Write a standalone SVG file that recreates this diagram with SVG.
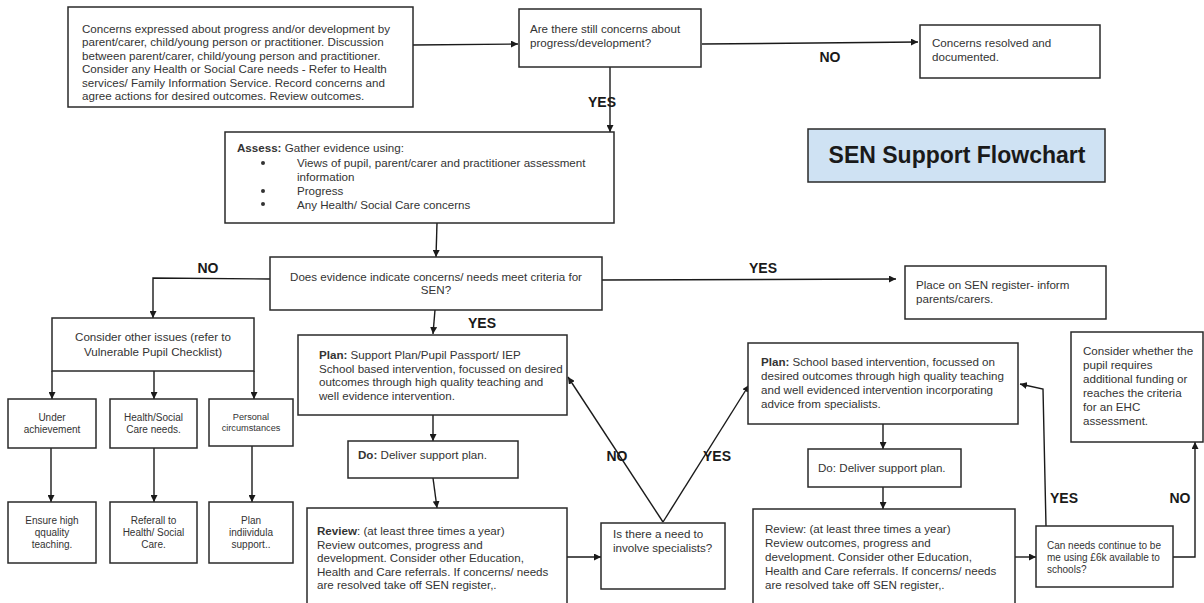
<svg xmlns="http://www.w3.org/2000/svg" width="1204" height="603" viewBox="0 0 1204 603">
<defs>
<marker id="ah" viewBox="0 0 10 10" refX="10" refY="5" markerWidth="7" markerHeight="7" orient="auto" markerUnits="userSpaceOnUse">
<path d="M0,0 L10,5 L0,10 z" fill="#1a1a1a"/>
</marker>
</defs>
<style>
rect.b{fill:#fff;stroke:#2a2a2a;stroke-width:1.5}
rect.t{fill:#cfe2f3;stroke:#2a2a2a;stroke-width:1.5}
text{font-family:"Liberation Sans",Arial,sans-serif;fill:#333}
.f{font-size:11.6px}
.s{font-size:10px}
.xs{font-size:9.2px}
.c{text-anchor:middle}
.lbl{font-size:14px;font-weight:bold;fill:#1a1a1a;text-anchor:middle}
.ttl{font-size:23px;font-weight:bold;fill:#1a1a1a;text-anchor:middle}
b,.bd{font-weight:bold}
#connectors path{fill:none;stroke:#1a1a1a;stroke-width:1.4}
</style>
<rect width="1204" height="603" fill="#fff"/>

<g id="connectors">
<path d="M413,45 L518,44" marker-end="url(#ah)"/>
<path d="M610,67 L610,132" marker-end="url(#ah)"/>
<path d="M702,44 L918,42" marker-end="url(#ah)"/>
<path d="M437,223 L436,257" marker-end="url(#ah)"/>
<path d="M270,279 L153,278 L153,318" marker-end="url(#ah)"/>
<path d="M602,280 L896,279" marker-end="url(#ah)"/>
<path d="M435,310 L433,334" marker-end="url(#ah)"/>
<path d="M52,371 L52,399" marker-end="url(#ah)"/>
<path d="M154,371 L154,399" marker-end="url(#ah)"/>
<path d="M254,371 L254,399" marker-end="url(#ah)"/>
<path d="M51,448 L51,502" marker-end="url(#ah)"/>
<path d="M154,448 L154,502" marker-end="url(#ah)"/>
<path d="M252,446 L252,502" marker-end="url(#ah)"/>
<path d="M433,415 L433,441" marker-end="url(#ah)"/>
<path d="M433,478 L437,508" marker-end="url(#ah)"/>
<path d="M567,557 L601,557" marker-end="url(#ah)"/>
<path d="M663,522 L568,377" marker-end="url(#ah)"/>
<path d="M663,522 L749,385" marker-end="url(#ah)"/>
<path d="M883,424 L883,449" marker-end="url(#ah)"/>
<path d="M883,487 L883,509" marker-end="url(#ah)"/>
<path d="M1015,557 L1036,557" marker-end="url(#ah)"/>
<path d="M1046,526 L1043,389 L1020,384" marker-end="url(#ah)"/>
<path d="M1173,557 L1195,557 L1195,442" marker-end="url(#ah)"/>
<text class="lbl" x="830" y="62">NO</text>
<text class="lbl" x="602" y="107">YES</text>
<text class="lbl" x="208" y="273">NO</text>
<text class="lbl" x="763" y="273">YES</text>
<text class="lbl" x="482" y="328">YES</text>
<text class="lbl" x="617" y="461">NO</text>
<text class="lbl" x="717" y="461">YES</text>
<text class="lbl" x="1064" y="503">YES</text>
<text class="lbl" x="1180" y="503">NO</text>
</g>

<g id="concerns">
<rect class="b" x="68" y="7" width="345" height="100"/>
<text class="f" x="82" y="33">Concerns expressed about progress and/or development by</text>
<text class="f" x="82" y="46.4">parent/carer, child/young person or practitioner. Discussion</text>
<text class="f" x="82" y="59.8">between parent/carer, child/young person and practitioner.</text>
<text class="f" x="82" y="73.2">Consider any Health or Social Care needs - Refer to Health</text>
<text class="f" x="82" y="86.6">services/ Family Information Service. Record concerns and</text>
<text class="f" x="82" y="100">agree actions for desired outcomes. Review outcomes.</text>
</g>

<g id="still-concerns">
<rect class="b" x="519" y="9" width="182" height="58"/>
<text class="f" x="530" y="33">Are there still concerns about</text>
<text class="f" x="530" y="47">progress/development?</text>
</g>

<g id="resolved">
<rect class="b" x="920" y="25" width="180" height="53"/>
<text class="f" x="932" y="47">Concerns resolved and</text>
<text class="f" x="932" y="61">documented.</text>
</g>

<g id="title">
<rect class="t" x="808" y="129" width="297" height="53"/>
<text class="ttl" x="957" y="163">SEN Support Flowchart</text>
</g>

<g id="assess">
<rect class="b" x="225" y="132" width="389" height="91"/>
<text class="f" x="237" y="152"><tspan class="bd">Assess:</tspan> Gather evidence using:</text>
<circle cx="263" cy="163" r="2" fill="#333"/>
<text class="f" x="297" y="167">Views of pupil, parent/carer and practitioner assessment</text>
<text class="f" x="297" y="180.5">information</text>
<circle cx="263" cy="191" r="2" fill="#333"/>
<text class="f" x="297" y="195">Progress</text>
<circle cx="263" cy="204" r="2" fill="#333"/>
<text class="f" x="297" y="208.5">Any Health/ Social Care concerns</text>
</g>

<g id="criteria">
<rect class="b" x="270" y="257" width="332" height="53"/>
<text class="f c" x="436" y="281">Does evidence indicate concerns/ needs meet criteria for</text>
<text class="f c" x="436" y="293.5">SEN?</text>
</g>

<g id="register">
<rect class="b" x="905" y="266" width="201" height="53"/>
<text class="f" x="916" y="289">Place on SEN register- inform</text>
<text class="f" x="916" y="302.5">parents/carers.</text>
</g>

<g id="other-issues">
<rect class="b" x="52" y="318" width="202" height="53"/>
<text class="f c" x="153" y="341">Consider other issues (refer to</text>
<text class="f c" x="153" y="356">Vulnerable Pupil Checklist)</text>
</g>

<g id="under">
<rect class="b" x="8" y="399" width="88" height="49"/>
<text class="s c" x="52" y="421">Under</text>
<text class="s c" x="52" y="433">achievement</text>
</g>

<g id="health">
<rect class="b" x="110" y="399" width="87" height="49"/>
<text class="s c" x="153.5" y="421">Health/Social</text>
<text class="s c" x="153.5" y="433">Care needs.</text>
</g>

<g id="personal">
<rect class="b" x="209" y="399" width="84" height="47"/>
<text class="xs c" x="251" y="419.5">Personal</text>
<text class="xs c" x="251" y="430.5">circumstances</text>
</g>

<g id="ensure">
<rect class="b" x="8" y="502" width="88" height="61"/>
<text class="s c" x="52" y="524">Ensure high</text>
<text class="s c" x="52" y="536">qquality</text>
<text class="s c" x="52" y="548">teaching.</text>
</g>

<g id="referral">
<rect class="b" x="110" y="502" width="87" height="61"/>
<text class="s c" x="153.5" y="524">Referall to</text>
<text class="s c" x="153.5" y="536">Health/ Social</text>
<text class="s c" x="153.5" y="548">Care.</text>
</g>

<g id="plan-individual">
<rect class="b" x="209" y="502" width="84" height="61"/>
<text class="s c" x="251" y="524">Plan</text>
<text class="s c" x="251" y="536">indiividula</text>
<text class="s c" x="251" y="548">support..</text>
</g>

<g id="plan1">
<rect class="b" x="298" y="335" width="269" height="80"/>
<text class="f" x="319" y="359"><tspan class="bd">Plan:</tspan> Support Plan/Pupil Passport/ IEP</text>
<text class="f" x="319" y="372.5">School based intervention, focussed on desired</text>
<text class="f" x="319" y="386">outcomes through high quality teaching and</text>
<text class="f" x="319" y="399.5">well evidence intervention.</text>
</g>

<g id="do1">
<rect class="b" x="348" y="441" width="170" height="37"/>
<text class="f" x="358" y="459"><tspan class="bd">Do:</tspan> Deliver support plan.</text>
</g>

<g id="review1">
<rect class="b" x="307" y="508" width="260" height="97"/>
<text class="f" x="317" y="535"><tspan class="bd">Review</tspan>: (at least three times a year)</text>
<text class="f" x="317" y="548.5">Review outcomes, progress and</text>
<text class="f" x="317" y="562">development. Consider other Education,</text>
<text class="f" x="317" y="575.5">Health and Care referrals. If concerns/ needs</text>
<text class="f" x="317" y="589">are resolved take off SEN register,.</text>
</g>

<g id="specialists">
<rect class="b" x="601" y="523" width="124" height="66"/>
<text class="f" x="613" y="538">Is there a need to</text>
<text class="f" x="613" y="552">involve specialists?</text>
</g>

<g id="plan2">
<rect class="b" x="748" y="343" width="270" height="81"/>
<text class="f" x="761" y="366"><tspan class="bd">Plan:</tspan> School based intervention, focussed on</text>
<text class="f" x="761" y="380">desired outcomes through high quality teaching</text>
<text class="f" x="761" y="394">and well evidenced intervention incorporating</text>
<text class="f" x="761" y="408">advice from specialists.</text>
</g>

<g id="do2">
<rect class="b" x="808" y="449" width="153" height="38"/>
<text class="f" x="818" y="472">Do: Deliver support plan.</text>
</g>

<g id="review2">
<rect class="b" x="753" y="509" width="262" height="96"/>
<text class="f" x="765" y="533">Review: (at least three times a year)</text>
<text class="f" x="765" y="547">Review outcomes, progress and</text>
<text class="f" x="765" y="561">development. Consider other Education,</text>
<text class="f" x="765" y="575">Health and Care referrals. If concerns/ needs</text>
<text class="f" x="765" y="589">are resolved take off SEN register,.</text>
</g>

<g id="funding">
<rect class="b" x="1036" y="526" width="137" height="61"/>
<text class="s" x="1047" y="549">Can needs continue to be</text>
<text class="s" x="1047" y="561">me using £6k available to</text>
<text class="s" x="1047" y="573">schools?</text>
</g>

<g id="ehc">
<rect class="b" x="1071" y="332" width="132" height="110"/>
<text class="f" x="1083" y="355">Consider whether the</text>
<text class="f" x="1083" y="369">pupil requires</text>
<text class="f" x="1083" y="383">additional funding or</text>
<text class="f" x="1083" y="397">reaches the criteria</text>
<text class="f" x="1083" y="411">for an EHC</text>
<text class="f" x="1083" y="425">assessment.</text>
</g>
</svg>
